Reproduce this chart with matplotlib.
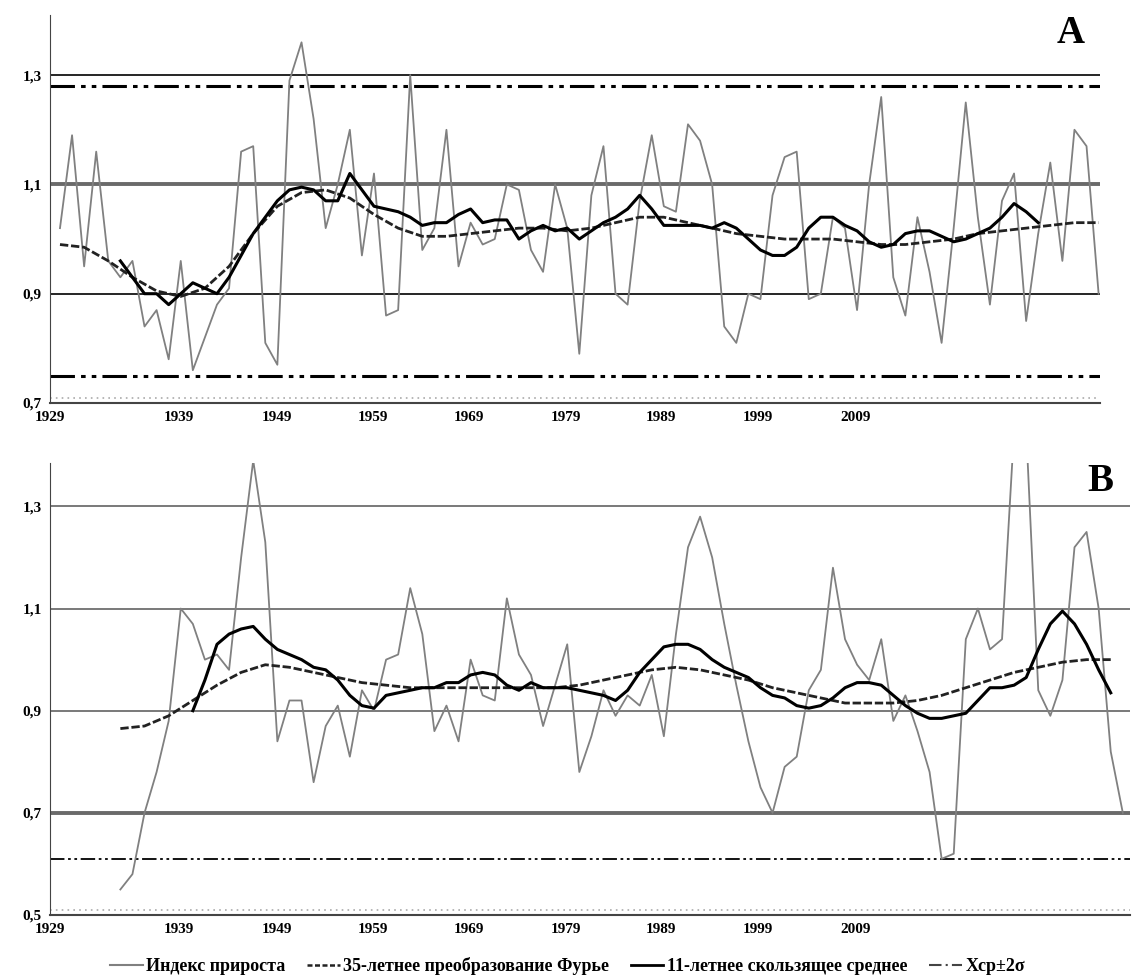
import matplotlib
matplotlib.use("Agg")
import matplotlib.pyplot as plt
import numpy as np

years_a = list(range(1929, 2016))
index_a = [1.02,1.19,0.95,1.16,0.96,0.93,0.96,0.84,0.87,0.78,0.96,0.76,0.82,0.88,0.91,1.16,1.17,0.81,0.77,1.29,
           1.36,1.22,1.02,1.10,1.20,0.97,1.12,0.86,0.87,1.30,0.98,1.02,1.20,0.95,1.03,0.99,1.00,1.10,1.09,0.98,
           0.94,1.10,1.02,0.79,1.08,1.17,0.90,0.88,1.07,1.19,1.06,1.05,1.21,1.18,1.10,0.84,0.81,0.90,0.89,1.08,
           1.15,1.16,0.89,0.90,1.04,1.02,0.87,1.10,1.26,0.93,0.86,1.04,0.94,0.81,1.02,1.25,1.04,0.88,1.07,1.12,
           0.85,1.01,1.14,0.96,1.20,1.17,0.90]
ma_years_a = list(range(1934, 2011))
ma_a = [.96,.93,.90,.90,.88,.90,.92,.91,.90,.93,.97,1.01,1.04,1.07,1.09,1.095,1.09,1.07,1.07,1.12,
        1.09,1.06,1.055,1.05,1.04,1.025,1.03,1.03,1.045,1.055,1.03,1.035,1.035,1.00,1.015,1.025,1.015,1.02,1.00,1.015,
        1.03,1.04,1.055,1.08,1.055,1.025,1.025,1.025,1.025,1.02,1.03,1.02,1.00,.98,.97,.97,.985,1.02,1.04,1.04,
        1.025,1.015,.995,.985,.99,1.01,1.015,1.015,1.005,.995,1.00,1.01,1.02,1.04,1.065,1.05,1.03]
f_years_a = list(range(1929, 2016, 2))
fourier_a = [.99,.985,.96,.93,.905,.895,.91,.95,1.01,1.06,1.085,1.09,1.075,1.045,1.02,1.005,1.005,1.01,1.015,1.02,
             1.02,1.015,1.02,1.03,1.04,1.04,1.03,1.02,1.01,1.005,1.00,1.00,1.00,.995,.99,.99,.995,1.00,1.01,1.015,
             1.02,1.025,1.03,1.03]

years_b = list(range(1934, 2018))
index_b = [.55,.58,.70,.78,.88,1.10,1.07,1.00,1.01,.98,1.20,1.39,1.23,.84,.92,.92,.76,.87,.91,.81,
           .94,.90,1.00,1.01,1.14,1.05,.86,.91,.84,1.00,.93,.92,1.12,1.01,.97,.87,.95,1.03,.78,.85,
           .94,.89,.93,.91,.97,.85,1.05,1.22,1.28,1.20,1.07,.95,.84,.75,.70,.79,.81,.94,.98,1.18,
           1.04,.99,.96,1.04,.88,.93,.86,.78,.61,.62,1.04,1.10,1.02,1.04,1.45,1.45,.94,.89,.96,1.22,
           1.25,1.10,.82,.70]
ma_years_b = list(range(1940, 2017))
ma_b = [.90,.96,1.03,1.05,1.06,1.065,1.04,1.02,1.01,1.00,.985,.98,.96,.93,.91,.905,.93,.935,.94,.945,
        .945,.955,.955,.97,.975,.97,.95,.94,.955,.945,.945,.945,.94,.935,.93,.92,.94,.975,1.00,1.025,
        1.03,1.03,1.02,1.00,.985,.975,.965,.945,.93,.925,.91,.905,.91,.925,.945,.955,.955,.95,.93,.91,
        .895,.885,.885,.89,.895,.92,.945,.945,.95,.965,1.02,1.07,1.095,1.07,1.03,.98,.935]
f_years_b = list(range(1934, 2017, 2))
fourier_b = [.865,.87,.89,.92,.95,.975,.99,.985,.975,.965,.955,.95,.945,.945,.945,.945,.945,.945,.945,.95,
             .96,.97,.98,.985,.98,.97,.96,.945,.935,.925,.915,.915,.915,.92,.93,.945,.96,.975,.985,.995,
             1.0,1.0]

tick_labels = ["1929","1939","1949","1959","1969","1979","1989","1999","2009"]
tick_px = [48,177,275,372,468,565,660,757,855]

plt.rcParams['font.family'] = ['Liberation Serif', 'DejaVu Serif']
W, H = 1135, 980
fig = plt.figure(figsize=(W/100, H/100), dpi=100)

def px2yr(p):
    return 1929 + (p-58)/12.1

def panel(rect, xr, yl, yticks, index, years, ma, mayears, four, fyears,
          blacklines, graylines, thickgray, dashdot, dd_lw, dotted, letter):
    l, t, r, b = rect
    ax = fig.add_axes([l/W, 1-b/H, (r-l)/W, (b-t)/H])
    ax.set_xlim(px2yr(l), px2yr(r))
    ax.set_ylim(*yl)
    for y in blacklines:
        ax.axhline(y, color='black', lw=1.2, zorder=1)
    for y in graylines:
        ax.axhline(y, color='#555555', lw=1.1, zorder=1)
    for y in thickgray:
        ax.axhline(y, color='#6a6a6a', lw=2.8, zorder=1)
    for y in dashdot:
        ax.axhline(y, color='black', lw=dd_lw, ls=(0, (8, 2, 1.5, 2, 1.5, 2)), zorder=1)
    ax.axhline(dotted, color='#aaaaaa', lw=1.2, ls=(0, (1, 2.5)), zorder=1)
    ax.plot(years, index, color='#808080', lw=1.3, zorder=2)
    ax.plot(fyears, four, color='#222222', lw=2.0, ls=(0, (3, 1)), zorder=3)
    ax.plot(mayears, ma, color='black', lw=2.2, zorder=4)
    for s in ['top', 'right']:
        ax.spines[s].set_visible(False)
    ax.spines['left'].set_color('#444444')
    ax.spines['bottom'].set_color('#444444')
    ax.spines['bottom'].set_linewidth(1.5)
    ax.set_yticks(yticks)
    ax.set_yticklabels([f"{v:.1f}".replace('.', ',') for v in yticks], fontweight='bold', fontsize=11)
    ax.set_xticks([px2yr(p) for p in tick_px])
    ax.set_xticklabels(tick_labels, fontweight='bold', fontsize=11)
    ax.tick_params(length=0, pad=6)
    ax.text(0.985, 1.0, letter, transform=ax.transAxes, ha='right', va='top',
            fontsize=28, fontweight='bold')
    return ax

panel((50, 15, 1100, 403), None, (0.7, 1.41), [0.7, 0.9, 1.1, 1.3], index_a, years_a, ma_a, ma_years_a,
      fourier_a, f_years_a, [0.9, 1.3], [], [1.1], [1.28, 0.75], 2.2, 0.71, 'A')
panel((50, 463, 1130, 915), None, (0.5, 1.385), [0.5, 0.7, 0.9, 1.1, 1.3], index_b, years_b, ma_b, ma_years_b,
      fourier_b, f_years_b, [], [0.9, 1.1, 1.3], [0.7], [0.61], 1.3, 0.51, 'B')

from matplotlib.lines import Line2D
handles = [Line2D([], [], color='#808080', lw=1.5),
           Line2D([], [], color='#222222', lw=1.8, ls=(0, (2, 1))),
           Line2D([], [], color='black', lw=2),
           Line2D([], [], color='#444444', lw=1.5, ls=(0, (6, 2, 1, 2)))]
labels = ['Индекс прироста', '35-летнее преобразование Фурье', '11-летнее скользящее среднее', 'Xср±2σ']
fig.legend(handles, labels, loc='center', bbox_to_anchor=(0.5, 1-966/H), ncol=4, frameon=False,
           prop={'weight': 'bold', 'size': 13}, handlelength=1.8, handletextpad=0.2, columnspacing=1.2)
fig.savefig('out.png', dpi=100)
